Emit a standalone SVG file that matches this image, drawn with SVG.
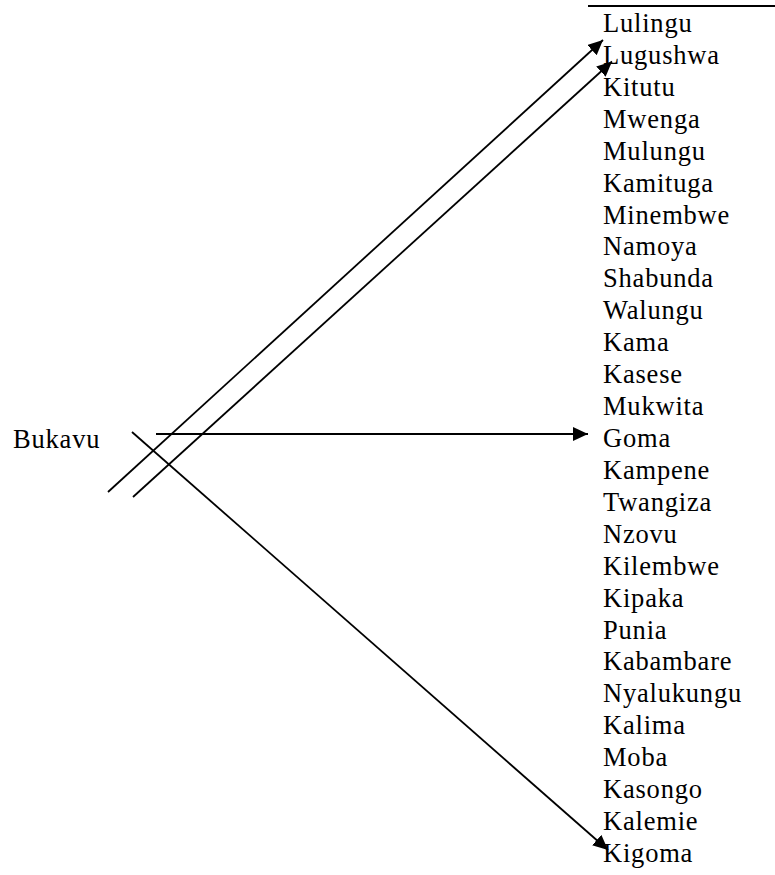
<svg xmlns="http://www.w3.org/2000/svg" width="775" height="875" viewBox="0 0 775 875">
<style>
text{font-family:"Liberation Serif","Times New Roman",serif;font-size:26.5px;letter-spacing:0.8px;fill:#000}
.c{stroke:#000;stroke-width:1.8;fill:none}
</style>
<defs>
<marker id="ah" markerUnits="userSpaceOnUse" markerWidth="16" markerHeight="16" refX="15" refY="7" orient="auto">
<path d="M0,0 L15,7 L0,14 Z" fill="#000"/>
</marker>
</defs>
<rect width="775" height="875" fill="#fff"/>
<line x1="588" y1="6" x2="775" y2="6" stroke="#000" stroke-width="2"/>
<g id="bukavu"><text x="13" y="448">Bukavu</text></g>
<g id="list">
<text x="603" y="32">Lulingu</text>
<text x="603" y="63.9">Lugushwa</text>
<text x="603" y="95.8">Kitutu</text>
<text x="603" y="127.8">Mwenga</text>
<text x="603" y="159.7">Mulungu</text>
<text x="603" y="191.6">Kamituga</text>
<text x="603" y="223.5">Minembwe</text>
<text x="603" y="255.4">Namoya</text>
<text x="603" y="287.4">Shabunda</text>
<text x="603" y="319.3">Walungu</text>
<text x="603" y="351.2">Kama</text>
<text x="603" y="383.1">Kasese</text>
<text x="603" y="415">Mukwita</text>
<text x="603" y="447">Goma</text>
<text x="603" y="478.9">Kampene</text>
<text x="603" y="510.8">Twangiza</text>
<text x="603" y="542.7">Nzovu</text>
<text x="603" y="574.6">Kilembwe</text>
<text x="603" y="606.6">Kipaka</text>
<text x="603" y="638.5">Punia</text>
<text x="603" y="670.4">Kabambare</text>
<text x="603" y="702.3">Nyalukungu</text>
<text x="603" y="734.2">Kalima</text>
<text x="603" y="766.2">Moba</text>
<text x="603" y="798.1">Kasongo</text>
<text x="603" y="830">Kalemie</text>
<text x="603" y="862">Kigoma</text>
</g>
<g id="connectors">
<line class="c" x1="108" y1="492" x2="603" y2="40" marker-end="url(#ah)"/>
<line class="c" x1="133" y1="497" x2="612" y2="61.5" marker-end="url(#ah)"/>
<line class="c" x1="156" y1="434" x2="588" y2="434" marker-end="url(#ah)"/>
<line class="c" x1="132" y1="432" x2="608" y2="850" marker-end="url(#ah)"/>
</g>
</svg>
